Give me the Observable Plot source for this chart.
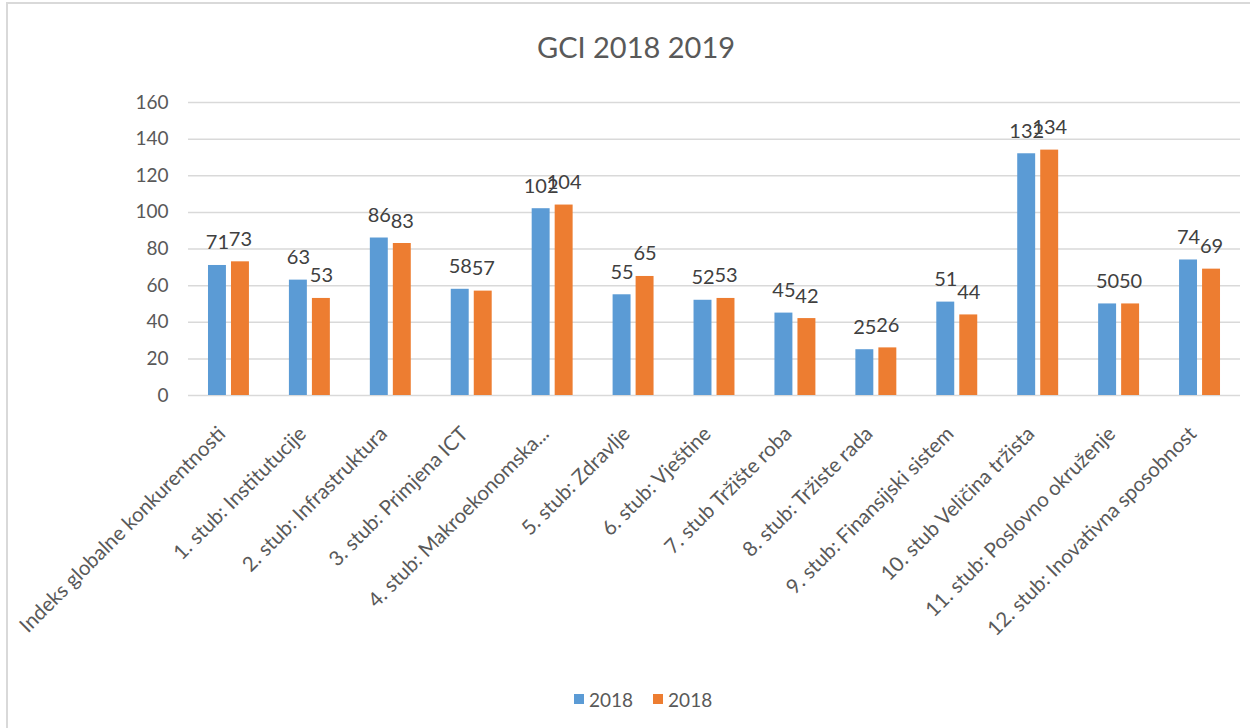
<!DOCTYPE html>
<html>
<head>
<meta charset="utf-8">
<script src="https://cdn.jsdelivr.net/npm/d3@7"></script>
<script src="https://cdn.jsdelivr.net/npm/@observablehq/plot@0.6"></script>
<style>
  html, body { margin: 0; padding: 0; background: #fff; overflow: hidden; }
  body { font-family: Lato, "Open Sans", sans-serif; width: 1250px; height: 728px; position: relative; }
  #frame { position: absolute; left: 6px; top: 2px; width: 1300px; height: 800px; border: 2px solid #d9d9d9; box-sizing: border-box; pointer-events: none; }
  #title { height: 80px; box-sizing: border-box; padding-top: 32px; width: 1272px; text-align: center; font-size: 29px; line-height: 29px; color: #595959; }
  #chart { height: 590px; }
  #legend { display: flex; align-items: center; padding-left: 574px; font-size: 19px; color: #595959; height: 58px; }
  .sw { display: inline-block; width: 10px; height: 10px; margin-right: 5px; }
  .item { display: inline-flex; align-items: center; margin-right: 20px; }
</style>
</head>
<body>
<div id="frame"></div>
<div id="title">GCI 2018 2019</div>
<div id="chart"></div>
<div id="legend"></div>
<script>
const categories = [
  "Indeks globalne konkurentnosti",
  "1. stub: Institutucije",
  "2. stub: Infrastruktura",
  "3. stub: Primjena ICT",
  "4. stub: Makroekonomska...",
  "5. stub: Zdravlje",
  "6. stub: Vještine",
  "7. stub Tržište roba",
  "8. stub: Tržiste rada",
  "9. stub: Finansijski sistem",
  "10. stub Veličina tržista",
  "11. stub: Poslovno okruženje",
  "12. stub: Inovativna sposobnost"
];
const seriesLabels = ["2018", "2018"];
const seriesColors = ["#5B9BD5", "#ED7D31"];
const valuesA = [71, 63, 86, 58, 102, 55, 52, 45, 25, 51, 132, 50, 74];
const valuesB = [73, 53, 83, 57, 104, 65, 53, 42, 26, 44, 134, 50, 69];
const yTicks = [0, 20, 40, 60, 80, 100, 120, 140, 160];

const dataA = categories.map((c, i) => ({cat: c, v: valuesA[i]}));
const dataB = categories.map((c, i) => ({cat: c, v: valuesB[i]}));

const chart = Plot.plot({
  width: 1250,
  height: 590,
  marginLeft: 188,
  marginRight: 10,
  marginTop: 22,
  marginBottom: 275,
  style: {fontFamily: "Lato, sans-serif", fontSize: "19px", color: "#595959", background: "transparent", overflow: "visible"},
  x: {domain: categories, paddingInner: 0.494, paddingOuter: 0.247, round: false},
  y: {domain: [0, 160]},
  marks: [
    Plot.ruleY(yTicks, {stroke: "#d9d9d9", strokeWidth: 1.5}),
    Plot.axisY({ticks: yTicks, label: null, tickSize: 0, tickPadding: 20, fontSize: 19}),
    Plot.axisX({label: null, tickRotate: -45, tickSize: 0, tickPadding: 35, dx: -7, fontSize: 20.5}),
    Plot.barY(dataA, {x: "cat", y: "v", fill: seriesColors[0], insetRight: 23}),
    Plot.barY(dataB, {x: "cat", y: "v", fill: seriesColors[1], insetLeft: 23}),
    Plot.text(dataA, {x: "cat", y: "v", text: d => String(d.v), dx: -11.5, dy: -16, lineAnchor: "bottom", fontSize: 20, fill: "#404040"}),
    Plot.text(dataB, {x: "cat", y: "v", text: d => String(d.v), dx: 11.5, dy: -16, lineAnchor: "bottom", fontSize: 20, fill: "#404040"})
  ]
});
document.getElementById("chart").appendChild(chart);

const legend = document.getElementById("legend");
seriesLabels.forEach((lab, i) => {
  const it = document.createElement("span");
  it.className = "item";
  const sw = document.createElement("span");
  sw.className = "sw";
  sw.style.background = seriesColors[i];
  it.appendChild(sw);
  it.appendChild(document.createTextNode(lab));
  legend.appendChild(it);
});
</script>
</body>
</html>
